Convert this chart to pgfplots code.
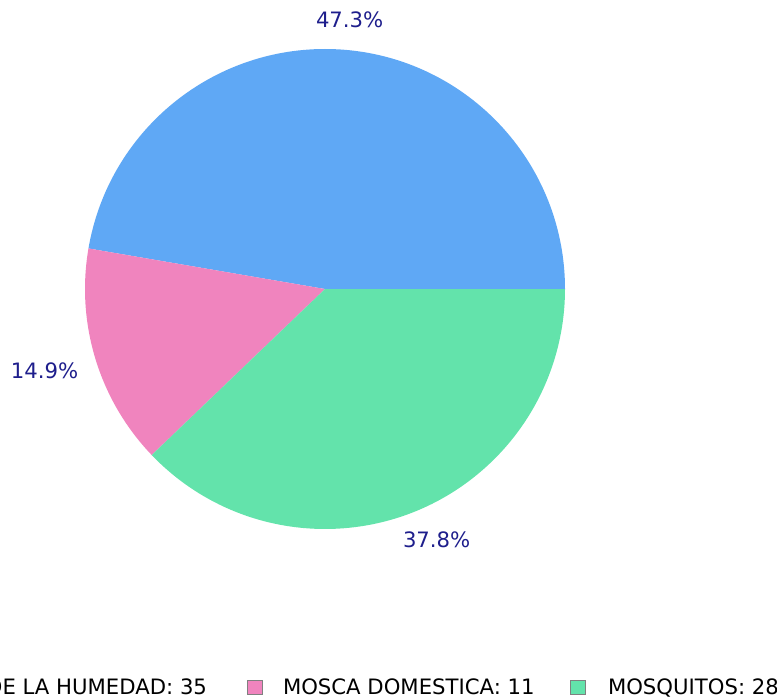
\documentclass[border=0pt]{standalone}
\usepackage{pgfplots}
\pgfplotsset{compat=1.18}
\usepackage{pgfplotstable}
\usepackage{fontspec}
\setmainfont{DejaVu Sans}
\definecolor{cBlue}{RGB}{95,168,245}
\definecolor{cPink}{RGB}{240,132,190}
\definecolor{cGreen}{RGB}{99,227,171}
\definecolor{cLab}{RGB}{30,30,140}
\pgfplotstableread{
value color
35 cBlue
11 cPink
28 cGreen
}\pietable
\begin{document}
\begin{tikzpicture}
\begin{axis}[name=ax, hide axis, scale only axis, width=388.5pt, height=349pt,
  xmin=0, xmax=777, ymin=0, ymax=698, clip=false]
\gdef\total{0}
\pgfplotsinvokeforeach{0,1,2}{
  \pgfplotstablegetelem{#1}{value}\of\pietable
  \pgfmathsetmacro\tmp{\total+\pgfplotsretval}\xdef\total{\tmp}
}
\gdef\cum{0}
\pgfplotsinvokeforeach{0,1,2}{
  \pgfplotstablegetelem{#1}{value}\of\pietable \let\val\pgfplotsretval
  \pgfplotstablegetelem{#1}{color}\of\pietable \let\col\pgfplotsretval
  \pgfmathsetmacro\sa{\cum/\total*360}
  \pgfmathsetmacro\ea{(\cum+\val)/\total*360}
  \pgfmathsetmacro\px{325+240*cos(\sa)}
  \pgfmathsetmacro\py{409+240*sin(\sa)}
  \edef\temp{\noexpand\fill[\col] (axis cs:325,409) -- (axis cs:\px,\py) arc[start angle=\sa, end angle=\ea, radius=120pt] -- cycle;}
  \temp
  \pgfmathsetmacro\tmp{\cum+\val}\xdef\cum{\tmp}
}
\tikzset{txt/.style={inner sep=0pt, outer sep=0pt, font=\fontsize{10.6}{12}\selectfont}}
\node[txt, anchor=base west, text=cLab] at (axis cs:316,670) {47.3\%};
\node[txt, anchor=base west, text=cLab] at (axis cs:11,320) {14.9\%};
\node[txt, anchor=base west, text=cLab] at (axis cs:403,151) {37.8\%};
% legend
\filldraw[fill=cBlue, draw=gray, line width=0.4pt] (axis cs:-134,4) rectangle (axis cs:-119,18);
\node[txt, anchor=base east] at (axis cs:207,4) {MOSCA DE LA HUMEDAD: 35};
\filldraw[fill=cPink, draw=gray, line width=0.4pt] (axis cs:247,4) rectangle (axis cs:262,18);
\node[txt, anchor=base west] at (axis cs:283,4) {MOSCA DOMESTICA: 11};
\filldraw[fill=cGreen, draw=gray, line width=0.4pt] (axis cs:570,4) rectangle (axis cs:585,18);
\node[txt, anchor=base west] at (axis cs:608,4) {MOSQUITOS: 28};
\end{axis}
\pgfresetboundingbox
\useasboundingbox (ax.south west) rectangle (ax.north east);
\end{tikzpicture}
\end{document}
